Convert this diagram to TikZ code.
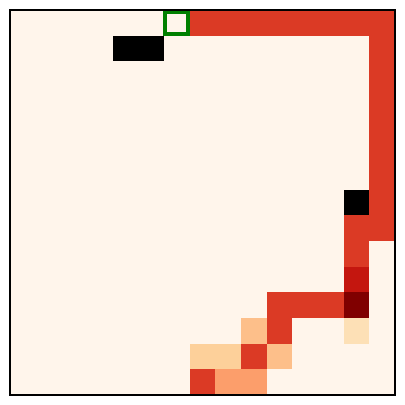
\documentclass[tikz,border=0pt]{standalone}
\definecolor{bg}{HTML}{FFF5EB}
\definecolor{rd}{HTML}{DB3A25}
\definecolor{rdd}{HTML}{C4160F}
\definecolor{mar}{HTML}{800000}
\definecolor{pch}{HTML}{FDE0B6}
\definecolor{lor}{HTML}{FDBF8A}
\definecolor{lor2}{HTML}{FDD09A}
\definecolor{org}{HTML}{FC9E6B}
\definecolor{grn}{HTML}{008000}
\newcommand{\cellat}[3]{\fill[#3] ({10+25.667*#1},{10+25.667*#2}) rectangle +(25.667,25.667);}
\begin{document}
\begin{tikzpicture}[x=0.025cm,y=-0.025cm]
\useasboundingbox (0,0) rectangle (405,405);
\fill[white] (0,0) rectangle (405,405);
\fill[bg] (10,10) rectangle (395,395);
% top red row
\foreach \c in {7,...,14} {\cellat{\c}{0}{rd}}
% right red column
\foreach \r in {1,...,8} {\cellat{14}{\r}{rd}}
\cellat{13}{8}{rd}
\cellat{13}{9}{rd}
\cellat{13}{10}{rdd}
\cellat{13}{11}{mar}
\foreach \c in {10,11,12} {\cellat{\c}{11}{rd}}
\cellat{13}{12}{pch}
\cellat{9}{12}{lor}
\cellat{10}{12}{rd}
\cellat{7}{13}{lor2}
\cellat{8}{13}{lor2}
\cellat{9}{13}{rd}
\cellat{10}{13}{lor}
\cellat{7}{14}{rd}
\cellat{8}{14}{org}
\cellat{9}{14}{org}
% black cells
\cellat{4}{1}{black}
\cellat{5}{1}{black}
\cellat{13}{7}{black}
% green outlined cell
\draw[grn, line width=0.1cm] (164.5,12) rectangle (188,34);
% frame
\draw[black, line width=0.035cm] (10,10) rectangle (395,395);
\end{tikzpicture}
\end{document}
